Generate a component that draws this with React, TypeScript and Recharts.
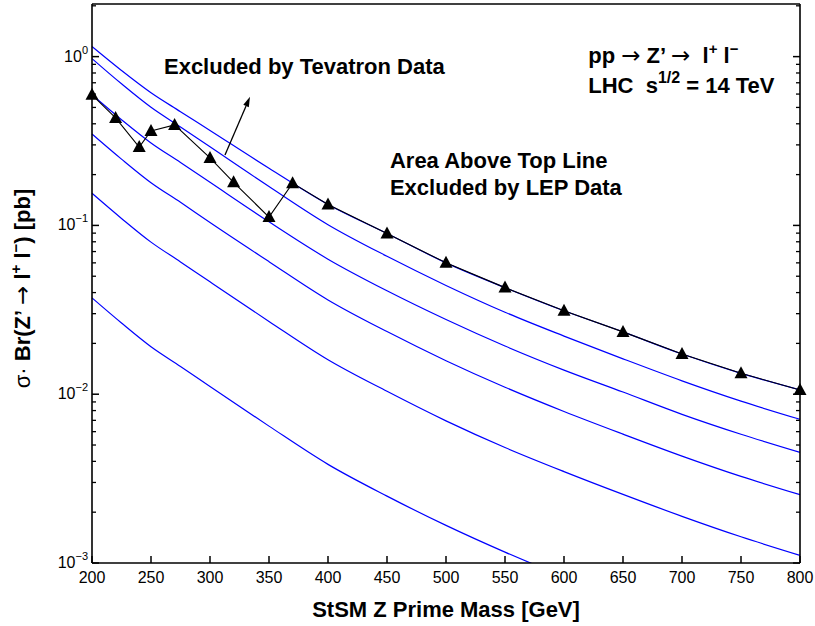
import React from 'react';
import { LineChart, Line, XAxis, YAxis, ReferenceLine, ReferenceDot, Label } from 'recharts';

const FONT = '"Liberation Sans", Arial, Helvetica, sans-serif';

// Blue theory curves (sigma*Br in pb) sampled at these masses (GeV)
const massGrid = [200, 225, 250, 275, 300, 350, 400, 450, 500, 550, 600, 650, 700, 750, 800];
const curve1 = [1.148, 0.828, 0.611, 0.472, 0.365, 0.218, 0.133, 0.0896, 0.06, 0.0428, 0.0312, 0.0234, 0.0173, 0.0133, 0.0106];
const curve2 = [0.973, 0.69, 0.501, 0.383, 0.292, 0.17, 0.101, 0.0656, 0.0441, 0.0306, 0.0221, 0.0162, 0.012, 0.0091, 0.0071];
const curve3 = [0.594, 0.423, 0.308, 0.236, 0.18, 0.105, 0.0631, 0.041, 0.0277, 0.0193, 0.0139, 0.0103, 0.0076, 0.00579, 0.00452];
const curve4 = [0.348, 0.247, 0.179, 0.137, 0.104, 0.061, 0.0362, 0.0235, 0.0158, 0.011, 0.0079, 0.0058, 0.0043, 0.00326, 0.00254];
const curve5 = [0.155, 0.11, 0.0796, 0.0608, 0.0463, 0.027, 0.016, 0.0104, 0.00695, 0.00483, 0.00348, 0.00255, 0.00189, 0.00143, 0.00111];
const curve6 = [0.0372, 0.0264, 0.0191, 0.0146, 0.0111, 0.00647, 0.00384, 0.00249, 0.00167, 0.00116, 0.00083, 0.00061];

// Black limit line with triangle markers
const limitMasses = [200, 220, 240, 250, 270, 300, 320, 350, 370, 400, 450, 500, 550, 600, 650, 700, 750, 800];
const limitValues = [0.594, 0.433, 0.291, 0.363, 0.394, 0.251, 0.18, 0.112, 0.178, 0.133, 0.0896, 0.06, 0.0428, 0.0312, 0.0234, 0.0173, 0.0133, 0.0106];

const xTicks = [200, 250, 300, 350, 400, 450, 500, 550, 600, 650, 700, 750, 800];
const yTicks = [
  0.001, 0.002, 0.003, 0.004, 0.005, 0.006, 0.007, 0.008, 0.009,
  0.01, 0.02, 0.03, 0.04, 0.05, 0.06, 0.07, 0.08, 0.09,
  0.1, 0.2, 0.3, 0.4, 0.5, 0.6, 0.7, 0.8, 0.9,
  1, 2,
];
const yMajor = [0.001, 0.01, 0.1, 1];
const yMajorExp = ['\u22123', '\u22122', '\u22121', '0'];

const X_DOMAIN: [number, number] = [200, 800];
const Y_DOMAIN: [number, number] = [0.001, 2.05];

const toPoints = (ms: number[], vs: number[]) => vs.map((v, i) => ({ m: ms[i], v }));

const blueCurves = [curve1, curve2, curve3, curve4, curve5, curve6];

const TICK_COLOR = '#000000';

const BottomTick = (p: any) => {
  const { x, y, payload } = p;
  return (
    <g>
      <line x1={x} y1={y} x2={x} y2={y - 7} stroke={TICK_COLOR} strokeWidth={1.5} />
      <text x={x} y={y + 20} textAnchor="middle" fontSize={16} fontFamily={FONT} fill="#000">
        {payload.value}
      </text>
    </g>
  );
};

const TopTick = (p: any) => {
  const { x, y } = p;
  return (
    <g>
      <line x1={x} y1={y} x2={x} y2={y + 7} stroke={TICK_COLOR} strokeWidth={1.5} />
    </g>
  );
};

const LeftTick = (p: any) => {
  const { x, y, payload } = p;
  const mi = yMajor.indexOf(payload.value);
  if (mi < 0)
    return (
      <g>
        <line x1={x} y1={y} x2={x + 4} y2={y} stroke={TICK_COLOR} strokeWidth={1.3} />
      </g>
    );
  return (
    <g>
      <line x1={x} y1={y} x2={x + 7} y2={y} stroke={TICK_COLOR} strokeWidth={1.5} />
      <text x={x - 4} y={y + 5} textAnchor="end" fontSize={16} fontFamily={FONT} fill="#000">
        10<tspan dy={-8} fontSize={11}>{yMajorExp[mi]}</tspan>
      </text>
    </g>
  );
};

const RightTick = (p: any) => {
  const { x, y, payload } = p;
  const major = yMajor.indexOf(payload.value) >= 0;
  return (
    <g>
      <line x1={x} y1={y} x2={x - (major ? 7 : 4)} y2={y} stroke={TICK_COLOR} strokeWidth={major ? 1.5 : 1.3} />
    </g>
  );
};

const renderTriangle = (p: any) => {
  const { cx, cy, index } = p;
  return (
    <polygon
      key={`tri-${index}`}
      points={`${cx},${cy - 7} ${cx - 6.5},${cy + 5} ${cx + 6.5},${cy + 5}`}
      fill="#000"
    />
  );
};

const renderArrow = (p: any) => {
  const { x1, y1, x2, y2 } = p;
  const ang = Math.atan2(y2 - y1, x2 - x1);
  const L = 10;
  const W = 3;
  const bx = x2 - L * Math.cos(ang);
  const by = y2 - L * Math.sin(ang);
  const px = -Math.sin(ang) * W;
  const py = Math.cos(ang) * W;
  return (
    <g>
      <line x1={x1} y1={y1} x2={bx} y2={by} stroke="#000" strokeWidth={1.3} />
      <polygon points={`${x2},${y2} ${bx + px},${by + py} ${bx - px},${by - py}`} fill="#000" />
    </g>
  );
};

const textStyle = { fontSize: 22, fontWeight: 'bold' as const, fontFamily: FONT, fill: '#000' };

const makeTextShape = (content: React.ReactNode) => (p: any) => (
  <text x={p.cx} y={p.cy} {...textStyle}>
    {content}
  </text>
);

const arrowGlyph = (
  <tspan fontWeight="normal" fontFamily='"DejaVu Sans", sans-serif' fontSize={23}>
    {'\u2192'}
  </tspan>
);

const annotations = [
  { m: 261, v: 0.79, content: 'Excluded by Tevatron Data' },
  { m: 452.5, v: 0.219, content: 'Area Above Top Line' },
  { m: 452.5, v: 0.151, content: 'Excluded by LEP Data' },
  {
    m: 620.5,
    v: 0.918,
    content: (
      <>
        pp {arrowGlyph} Z{'\u2019'} {arrowGlyph}
        {'\u00A0 '}l<tspan dy={-9} fontSize={15}>+</tspan>
        <tspan dy={9}> l</tspan>
        <tspan dy={-9} fontSize={15}>{'\u2212'}</tspan>
      </>
    ),
  },
  {
    m: 620.5,
    v: 0.609,
    content: (
      <>
        LHC{'\u00A0 '}s<tspan dy={-10} fontSize={16}>1/2</tspan>
        <tspan dy={10}> = 14 TeV</tspan>
      </>
    ),
  },
];

const arrowSegment = [
  { x: 312.7, y: 0.261 },
  { x: 333.9, y: 0.578 },
];

const XLabel = (p: any) => {
  const vb = p.viewBox || {};
  return (
    <text x={vb.x + vb.width / 2} y={vb.y + 54} textAnchor="middle" {...textStyle}>
      StSM Z Prime Mass [GeV]
    </text>
  );
};

const YLabel = (p: any) => {
  const vb = p.viewBox || {};
  const cx = vb.x - 2;
  const cy = vb.y + vb.height / 2 + 5;
  return (
    <text x={cx} y={cy} transform={`rotate(-90, ${cx}, ${cy})`} textAnchor="middle" {...textStyle}>
      <tspan fontWeight="normal">{'\u03C3\u00B7'}</tspan>
      {'\u00A0'}Br(Z{'\u2019'} {arrowGlyph} l
      <tspan dy={-9} fontSize={15}>+</tspan>
      <tspan dy={9}>{'\u00A0'}l</tspan>
      <tspan dy={-9} fontSize={15}>{'\u2212'}</tspan>
      <tspan dy={9}>) [pb]</tspan>
    </text>
  );
};

export default function App() {
  return (
    <div style={{ position: 'absolute', left: 0, top: 0, background: '#fff' }}>
      <LineChart width={815} height={626} margin={{ top: 2, right: 13, bottom: 8, left: 32 }}>
        <XAxis
          xAxisId="bottom"
          type="number"
          dataKey="m"
          domain={X_DOMAIN}
          ticks={xTicks}
          interval={0}
          tickSize={0}
          tickMargin={0}
          tickLine={false}
          height={55}
          axisLine={{ stroke: '#000', strokeWidth: 1.6 }}
          tick={BottomTick}
        >
          <Label content={XLabel} />
        </XAxis>
        <XAxis
          xAxisId="top"
          orientation="top"
          type="number"
          dataKey="m"
          domain={X_DOMAIN}
          ticks={xTicks}
          interval={0}
          tickSize={0}
          tickMargin={0}
          tickLine={false}
          height={2}
          axisLine={{ stroke: '#000', strokeWidth: 1.6 }}
          tick={TopTick}
        />
        <YAxis
          yAxisId="left"
          type="number"
          scale="log"
          domain={Y_DOMAIN}
          allowDataOverflow
          ticks={yTicks}
          interval={0}
          tickSize={0}
          tickMargin={0}
          tickLine={false}
          width={60}
          axisLine={{ stroke: '#000', strokeWidth: 1.6 }}
          tick={LeftTick}
        >
          <Label content={YLabel} />
        </YAxis>
        <YAxis
          yAxisId="right"
          orientation="right"
          type="number"
          scale="log"
          domain={Y_DOMAIN}
          ticks={yTicks}
          interval={0}
          tickSize={0}
          tickMargin={0}
          tickLine={false}
          width={2}
          axisLine={{ stroke: '#000', strokeWidth: 1.6 }}
          tick={RightTick}
        />
        {blueCurves.map((c, i) => (
          <Line
            key={`c${i}`}
            xAxisId="bottom"
            yAxisId="left"
            data={toPoints(massGrid, c)}
            dataKey="v"
            type="monotone"
            stroke="#0000ff"
            strokeWidth={1.2}
            dot={false}
            activeDot={false}
            isAnimationActive={false}
          />
        ))}
        <Line
          xAxisId="bottom"
          yAxisId="right"
          data={toPoints(limitMasses, limitValues)}
          dataKey="v"
          type="linear"
          stroke="#000"
          strokeWidth={1.1}
          dot={renderTriangle}
          activeDot={false}
          isAnimationActive={false}
        />
        <ReferenceLine xAxisId="bottom" yAxisId="right" segment={arrowSegment} shape={renderArrow} />
        {annotations.map((a, i) => (
          <ReferenceDot
            key={`a${i}`}
            xAxisId="bottom"
            yAxisId="right"
            x={a.m}
            y={a.v}
            r={0}
            shape={makeTextShape(a.content)}
          />
        ))}
      </LineChart>
    </div>
  );
}
